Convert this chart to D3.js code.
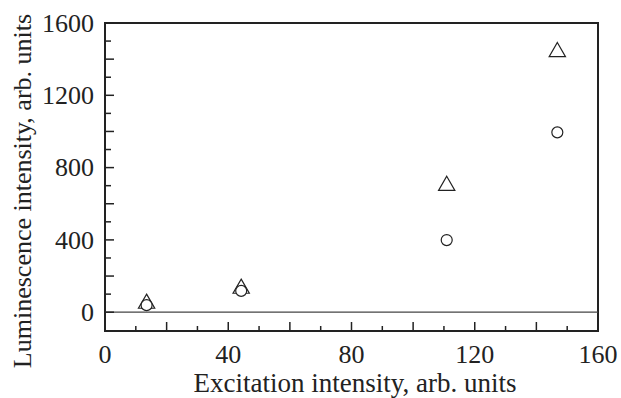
<!DOCTYPE html>
<html>
<head>
<meta charset="utf-8">
<script src="https://cdn.jsdelivr.net/npm/d3@7"></script>
<style>
  body { margin: 0; background: #fff; }
  text { font-family: "Liberation Serif", "Times New Roman", serif; fill: #222; }
</style>
</head>
<body>
<script>
// excitation intensity of each measurement
const excitation = [13.5, 44.2, 110.9, 146.8];
// triangles and circles
const triangleValues = [48, 131, 700, 1440];
const circleValues = [39, 118, 399, 995];
const xTickLabels = [0, 40, 80, 120, 160];
const yTickLabels = [0, 400, 800, 1200, 1600];

document.addEventListener("DOMContentLoaded", function () {
    var svg = d3.select("body").append("svg")
      .attr("width", 621)
      .attr("height", 398);

    const x = d3.scaleLinear().domain([0, 160]).range([105, 598]);
    const y = d3.scaleLinear().domain([-104, 1600]).range([331, 23]);

    // frame
    svg.append("rect")
      .attr("x", x(0))
      .attr("y", y(1600))
      .attr("width", x(160) - x(0))
      .attr("height", y(-104) - y(1600))
      .attr("fill", "none")
      .attr("stroke", "#222")
      .attr("stroke-width", 2);

    // zero line
    svg.append("line")
      .attr("x1", x(0))
      .attr("x2", x(160))
      .attr("y1", y(0))
      .attr("y2", y(0))
      .attr("stroke", "#444")
      .attr("stroke-width", 1.3);

    // y ticks, every 100, longer every 200
    svg.append("g").selectAll("line")
      .data(d3.range(0, 1601, 100))
      .join("line")
      .attr("x1", x(0))
      .attr("x2", d => x(0) + (d % 200 === 0 ? 9 : 6))
      .attr("y1", d => y(d))
      .attr("y2", d => y(d))
      .attr("stroke", "#222")
      .attr("stroke-width", 1.5);

    // x ticks, every 10, longer every 20
    svg.append("g").selectAll("line")
      .data(d3.range(10, 160, 10))
      .join("line")
      .attr("x1", d => x(d))
      .attr("x2", d => x(d))
      .attr("y1", y(-104))
      .attr("y2", d => y(-104) - (d % 20 === 0 ? 9 : 5))
      .attr("stroke", "#222")
      .attr("stroke-width", 1.5);

    svg.append("g").selectAll("text")
      .data(yTickLabels)
      .join("text")
      .attr("x", 94)
      .attr("y", d => y(d))
      .attr("dy", "0.34em")
      .attr("text-anchor", "end")
      .attr("font-size", 26)
      .text(d => d);

    svg.append("g").selectAll("text")
      .data(xTickLabels)
      .join("text")
      .attr("x", d => x(d))
      .attr("y", 363)
      .attr("text-anchor", "middle")
      .attr("font-size", 26)
      .text(d => d);

    svg.append("text")
      .attr("x", 355)
      .attr("y", 392)
      .attr("text-anchor", "middle")
      .attr("font-size", 27)
      .text("Excitation intensity, arb. units");

    svg.append("text")
      .attr("transform", "translate(31,191) rotate(-90)")
      .attr("text-anchor", "middle")
      .attr("font-size", 26)
      .text("Luminescence intensity, arb. units");

    // triangles
    svg.append("g").selectAll("path")
      .data(excitation)
      .join("path")
      .attr("d", d3.symbol(d3.symbolTriangle, 115))
      .attr("transform", (d, i) => "translate(" + x(d) + "," + y(triangleValues[i]) + ")")
      .attr("fill", "none")
      .attr("stroke", "#222")
      .attr("stroke-width", 1.2);

    // circles
    svg.append("g").selectAll("circle")
      .data(excitation)
      .join("circle")
      .attr("cx", d => x(d))
      .attr("cy", (d, i) => y(circleValues[i]))
      .attr("r", 5.5)
      .attr("fill", "#fff")
      .attr("stroke", "#222")
      .attr("stroke-width", 1.2);
});
</script>
</body>
</html>
